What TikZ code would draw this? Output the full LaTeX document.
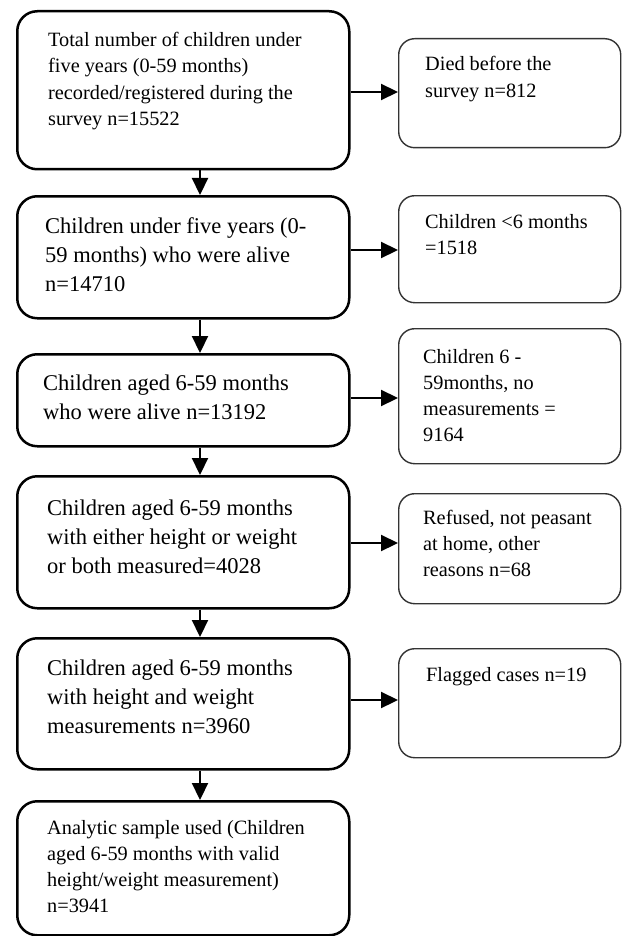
\documentclass[tikz,border=0pt]{standalone}
\usepackage{fontspec}
\setmainfont{Liberation Serif}
\usetikzlibrary{arrows.meta,calc}
\begin{document}
\begin{tikzpicture}[x=1pt,y=-1pt,
  lbox/.style={draw=black, line width=2.5pt, rounded corners=20pt, rectangle, inner sep=0pt, anchor=north west},
  rbox/.style={draw=black!80, line width=1.4pt, rounded corners=16pt, rectangle, inner sep=0pt, anchor=north west},
  bigtxt/.style={inner sep=0pt, anchor=base west, font=\fontsize{22.5}{29.3}\selectfont},
  smalltxt/.style={inner sep=0pt, anchor=base west, font=\fontsize{20.3}{26.3}\selectfont},
  arr/.style={line width=2.2pt, -{Triangle[width=16pt,length=17pt]}}
]
\useasboundingbox (0,0) rectangle (621,936);
\fill[white] (0,0) rectangle (621,936);

% left column boxes
\node[lbox, minimum width=332pt, minimum height=158pt] (b1) at (16,10) {};
\node[lbox, minimum width=332pt, minimum height=122pt] (b2) at (16,195) {};
\node[lbox, minimum width=332pt, minimum height=92pt]  (b3) at (16,353) {};
\node[lbox, minimum width=332pt, minimum height=132pt] (b4) at (16,475) {};
\node[lbox, minimum width=332pt, minimum height=131pt] (b5) at (16,637) {};
\node[lbox, minimum width=332pt, minimum height=134pt] (b6) at (16,800) {};

% right column boxes
\node[rbox, minimum width=222pt, minimum height=109pt] (r1) at (398,38) {};
\node[rbox, minimum width=222pt, minimum height=107pt] (r2) at (398,195) {};
\node[rbox, minimum width=222pt, minimum height=135pt] (r3) at (398,328) {};
\node[rbox, minimum width=222pt, minimum height=110pt] (r4) at (398,493) {};
\node[rbox, minimum width=222pt, minimum height=109pt] (r5) at (398,648) {};

% texts
\node[smalltxt] (t1) at (48,46.5) {\parbox[t]{300pt}{Total number of children under\\five years (0-59 months)\\recorded/registered during the\\survey n=15522}};
\node[bigtxt] (t2) at (45,233) {\parbox[t]{300pt}{Children under five years (0-\\59 months) who were alive\\n=14710}};
\node[bigtxt] (t3) at (43,390) {\parbox[t]{300pt}{Children aged 6-59 months\\who were alive n=13192}};
\node[bigtxt] (t4) at (47,515) {\parbox[t]{300pt}{Children aged 6-59 months\\with either height or weight\\or both measured=4028}};
\node[bigtxt] (t5) at (47,675) {\parbox[t]{300pt}{Children aged 6-59 months\\with height and weight\\measurements n=3960}};
\node[smalltxt] (t6) at (47,834) {\parbox[t]{300pt}{Analytic sample used (Children\\aged 6-59 months with valid\\height/weight measurement)\\n=3941}};

\node[smalltxt] (s1) at (425,71) {\parbox[t]{190pt}{Died before the\\survey n=812}};
\node[smalltxt] (s2) at (425,228) {\parbox[t]{190pt}{Children <6 months\\=1518}};
\node[smalltxt] (s3) at (423,363) {\parbox[t]{190pt}{Children 6 -\\59months, no\\measurements =\\9164}};
\node[smalltxt] (s4) at (423,524) {\parbox[t]{190pt}{Refused, not peasant\\at home, other\\reasons n=68}};
\node[smalltxt] (s5) at (426,681) {\parbox[t]{190pt}{Flagged cases n=19}};

% vertical arrows
\coordinate (ax) at (200,0);
\draw[arr] (b1.south -| ax) -- (b2.north -| ax);
\draw[arr] (b2.south -| ax) -- (b3.north -| ax);
\draw[arr] (b3.south -| ax) -- (b4.north -| ax);
\draw[arr] (b4.south -| ax) -- (b5.north -| ax);
\draw[arr] (b5.south -| ax) -- (b6.north -| ax);

% horizontal arrows
\coordinate (h1) at (0,92);
\coordinate (h2) at (0,250);
\coordinate (h3) at (0,398);
\coordinate (h4) at (0,543);
\coordinate (h5) at (0,700);
\draw[arr] (b1.east |- h1) -- (r1.west |- h1);
\draw[arr] (b2.east |- h2) -- (r2.west |- h2);
\draw[arr] (b3.east |- h3) -- (r3.west |- h3);
\draw[arr] (b4.east |- h4) -- (r4.west |- h4);
\draw[arr] (b5.east |- h5) -- (r5.west |- h5);
\end{tikzpicture}
\end{document}
